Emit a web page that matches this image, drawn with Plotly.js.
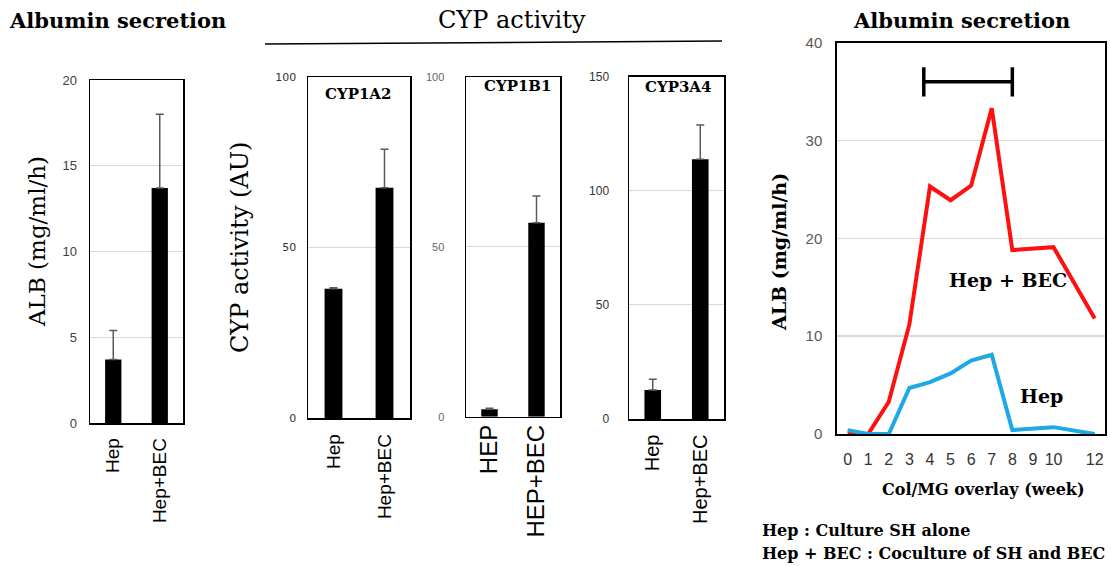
<!DOCTYPE html>
<html>
<head>
<meta charset="utf-8">
<script src="https://cdn.plot.ly/plotly-3.0.1.min.js"></script>
<style>html,body{margin:0;padding:0;background:#fff;}#chart{width:1111px;height:566px;}</style>
</head>
<body>
<div id="chart"></div>
<script>
// ---- Data ----
const albCats = ['Hep', 'Hep+BEC'];
const albVals = [3.7, 13.7];
const albErr = [1.7, 4.3];

const cyp1a2Cats = ['Hep', 'Hep+BEC'];
const cyp1a2Vals = [37.9, 67.5];
const cyp1a2Err = [0.3, 11.3];

const cyp1b1Cats = ['HEP', 'HEP+BEC'];
const cyp1b1Vals = [2.2, 57.1];
const cyp1b1Err = [0.3, 7.9];

const cyp3a4Cats = ['Hep', 'Hep+BEC'];
const cyp3a4Vals = [12.7, 113.8];
const cyp3a4Err = [4.7, 15.0];

const weeks = [0, 1, 2, 3, 4, 5, 6, 7, 8, 10, 12];
const hepBecAlb = [0, 0, 3.3, 11.2, 25.3, 23.9, 25.4, 33.3, 18.8, 19.1, 11.8];
const hepAlb = [0.4, 0, 0, 4.7, 5.3, 6.2, 7.5, 8.1, 0.4, 0.7, 0];
const weekTicks = [0, 1, 2, 3, 4, 5, 6, 7, 8, 9, 10, 12];
const periodWeeks = [3.7, 8];
const periodLevel = [36, 36];

// ---- Helpers ----
const W = 1111, H = 566;
const px = v => v / W;
const py = v => 1 - v / H;
const SERIF = 'DejaVu Serif, serif';
const SANS = 'Liberation Sans, Arial, sans-serif';

function barTrace(cats, vals, err, xa, ya) {
  return {
    type: 'bar', x: cats, y: vals, xaxis: xa, yaxis: ya,
    width: 0.35, marker: {color: '#000'},
    error_y: {type: 'data', symmetric: false, array: err, arrayminus: vals.map(() => 0),
              color: '#5a5a5a', thickness: 1.5, width: 4},
    hoverinfo: 'skip', showlegend: false
  };
}

const traces = [
  barTrace(albCats, albVals, albErr, 'x', 'y'),
  barTrace(cyp1a2Cats, cyp1a2Vals, cyp1a2Err, 'x2', 'y2'),
  barTrace(cyp1b1Cats, cyp1b1Vals, cyp1b1Err, 'x3', 'y3'),
  barTrace(cyp3a4Cats, cyp3a4Vals, cyp3a4Err, 'x4', 'y4'),
  {type: 'scatter', mode: 'lines', x: weeks, y: hepBecAlb, xaxis: 'x5', yaxis: 'y5',
   line: {color: '#ff1010', width: 4}, showlegend: false, hoverinfo: 'skip'},
  {type: 'scatter', mode: 'lines', x: weeks, y: hepAlb, xaxis: 'x5', yaxis: 'y5',
   line: {color: '#1ea8e6', width: 4}, showlegend: false, hoverinfo: 'skip'},
  {type: 'scatter', mode: 'lines+markers', x: periodWeeks, y: periodLevel, xaxis: 'x5', yaxis: 'y5',
   line: {color: '#000', width: 3.5},
   marker: {symbol: 'line-ns', size: 21, line: {color: '#000', width: 3.5}},
   showlegend: false, hoverinfo: 'skip'}
];

function catX(dom, anchor, fsize, standoff, extra) {
  return {domain: dom, anchor: anchor, type: 'category', range: [-0.5, 1.5],
          showline: true, mirror: true, linecolor: '#000', linewidth: 1.5,
          ticks: 'outside', ticklen: standoff, tickcolor: 'rgba(0,0,0,0)',
          ticklabelstandoff: extra || 0,
          tickangle: -90, tickfont: {family: SANS, size: fsize, color: '#000'},
          showgrid: false, zeroline: false, fixedrange: true};
}
function valY(dom, anchor, range, dtick, font, standoff) {
  return {domain: dom, anchor: anchor, range: range, dtick: dtick,
          showline: true, mirror: true, linecolor: '#000', linewidth: 1.5,
          ticks: 'outside', ticklen: standoff, tickcolor: 'rgba(0,0,0,0)',
          tickfont: font, showgrid: true, gridcolor: '#d9d9d9', gridwidth: 1,
          zeroline: false, fixedrange: true};
}

const layout = {
  width: W, height: H, margin: {l: 0, r: 0, t: 0, b: 0},
  paper_bgcolor: '#fff', plot_bgcolor: '#fff', showlegend: false,
  xaxis: catX([px(90), px(183)], 'y', 19, 6),
  yaxis: valY([py(423), py(80)], 'x', [0, 20], 5, {family: SANS, size: 13, color: '#404040'}, 9),
  xaxis2: catX([px(308), px(410)], 'y2', 19, 7),
  yaxis2: valY([py(418), py(77)], 'x2', [0, 100], 50, {family: 'DejaVu Sans, sans-serif', size: 11, color: '#333'}, 8),
  xaxis3: catX([px(466), px(560)], 'y3', 24, 0, -3),
  yaxis3: valY([py(416.7), py(77)], 'x3', [0, 100], 50, {family: SANS, size: 11, color: '#666'}, 18),
  xaxis4: catX([px(629), px(724)], 'y4', 20, 6),
  yaxis4: valY([py(419), py(76.7)], 'x4', [0, 150], 50, {family: SANS, size: 12, color: '#333'}, 16),
  xaxis5: {domain: [px(837.3), px(1105)], anchor: 'y5', range: [-0.5, 12.5],
           tickmode: 'array', tickvals: weekTicks, ticktext: weekTicks.map(String),
           showline: true, mirror: true, linecolor: '#000', linewidth: 2,
           ticks: 'outside', ticklen: 10, tickcolor: 'rgba(0,0,0,0)',
           tickfont: {family: SANS, size: 16, color: '#333'}, showgrid: false, zeroline: false, fixedrange: true},
  yaxis5: {domain: [py(434), py(42.7)], anchor: 'x5', range: [0, 40], dtick: 10,
           showline: true, mirror: true, linecolor: '#000', linewidth: 2,
           ticks: 'outside', ticklen: 10, tickcolor: 'rgba(0,0,0,0)',
           tickfont: {family: SANS, size: 15, color: '#595959'},
           showgrid: true, gridcolor: '#d9d9d9', gridwidth: 1.5, zeroline: false, fixedrange: true},
  shapes: [
    {type: 'line', xref: 'paper', yref: 'paper', x0: px(265), x1: px(722), y0: py(44), y1: py(41),
     line: {color: '#000', width: 1.5}}
  ],
  annotations: [
    {text: '<b>Albumin secretion</b>', xref: 'paper', yref: 'paper', x: px(117), y: py(20), showarrow: false,
     font: {family: SERIF, size: 21, color: '#000'}, xanchor: 'center', yanchor: 'middle'},
    {text: 'CYP activity', xref: 'paper', yref: 'paper', x: px(512), y: py(20), showarrow: false,
     font: {family: SERIF, size: 24, color: '#000'}, xanchor: 'center', yanchor: 'middle'},
    {text: '<b>Albumin secretion</b>', xref: 'paper', yref: 'paper', x: px(961), y: py(20), showarrow: false,
     font: {family: SERIF, size: 21, color: '#000'}, xanchor: 'center', yanchor: 'middle'},
    {text: 'ALB (mg/ml/h)', xref: 'paper', yref: 'paper', x: px(37), y: py(242), showarrow: false,
     textangle: -90, font: {family: SERIF, size: 23, color: '#000'}, xanchor: 'center', yanchor: 'middle'},
    {text: 'CYP activity (AU)', xref: 'paper', yref: 'paper', x: px(240), y: py(248), showarrow: false,
     textangle: -90, font: {family: SERIF, size: 24, color: '#000'}, xanchor: 'center', yanchor: 'middle'},
    {text: '<b>ALB (mg/ml/h)</b>', xref: 'paper', yref: 'paper', x: px(779), y: py(252), showarrow: false,
     textangle: -90, font: {family: SERIF, size: 19, color: '#000'}, xanchor: 'center', yanchor: 'middle'},
    {text: '<b>CYP1A2</b>', xref: 'paper', yref: 'paper', x: px(358), y: py(94), showarrow: false,
     font: {family: SERIF, size: 15, color: '#000'}, xanchor: 'center', yanchor: 'middle'},
    {text: '<b>CYP1B1</b>', xref: 'paper', yref: 'paper', x: px(517), y: py(86), showarrow: false,
     font: {family: SERIF, size: 15, color: '#000'}, xanchor: 'center', yanchor: 'middle'},
    {text: '<b>CYP3A4</b>', xref: 'paper', yref: 'paper', x: px(678), y: py(87), showarrow: false,
     font: {family: SERIF, size: 15, color: '#000'}, xanchor: 'center', yanchor: 'middle'},
    {text: '<b>Hep + BEC</b>', xref: 'x5', yref: 'y5', x: 7.8, y: 15.7, showarrow: false,
     font: {family: SERIF, size: 19, color: '#000'}, xanchor: 'center', yanchor: 'middle'},
    {text: '<b>Hep</b>', xref: 'x5', yref: 'y5', x: 9.4, y: 3.9, showarrow: false,
     font: {family: SERIF, size: 19, color: '#000'}, xanchor: 'center', yanchor: 'middle'},
    {text: '<b>Col/MG overlay (week)</b>', xref: 'paper', yref: 'paper', x: px(983), y: py(489), showarrow: false,
     font: {family: SERIF, size: 16, color: '#000'}, xanchor: 'center', yanchor: 'middle'},
    {text: '<b>Hep : Culture SH alone</b>', xref: 'paper', yref: 'paper', x: px(760), y: py(530), showarrow: false,
     font: {family: SERIF, size: 16, color: '#000'}, xanchor: 'left', yanchor: 'middle'},
    {text: '<b>Hep + BEC : Coculture of SH and BEC</b>', xref: 'paper', yref: 'paper', x: px(760), y: py(553), showarrow: false,
     font: {family: SERIF, size: 16, color: '#000'}, xanchor: 'left', yanchor: 'middle'}
  ]
};

Plotly.newPlot('chart', traces, layout, {staticPlot: true, displayModeBar: false});
</script>
</body>
</html>
